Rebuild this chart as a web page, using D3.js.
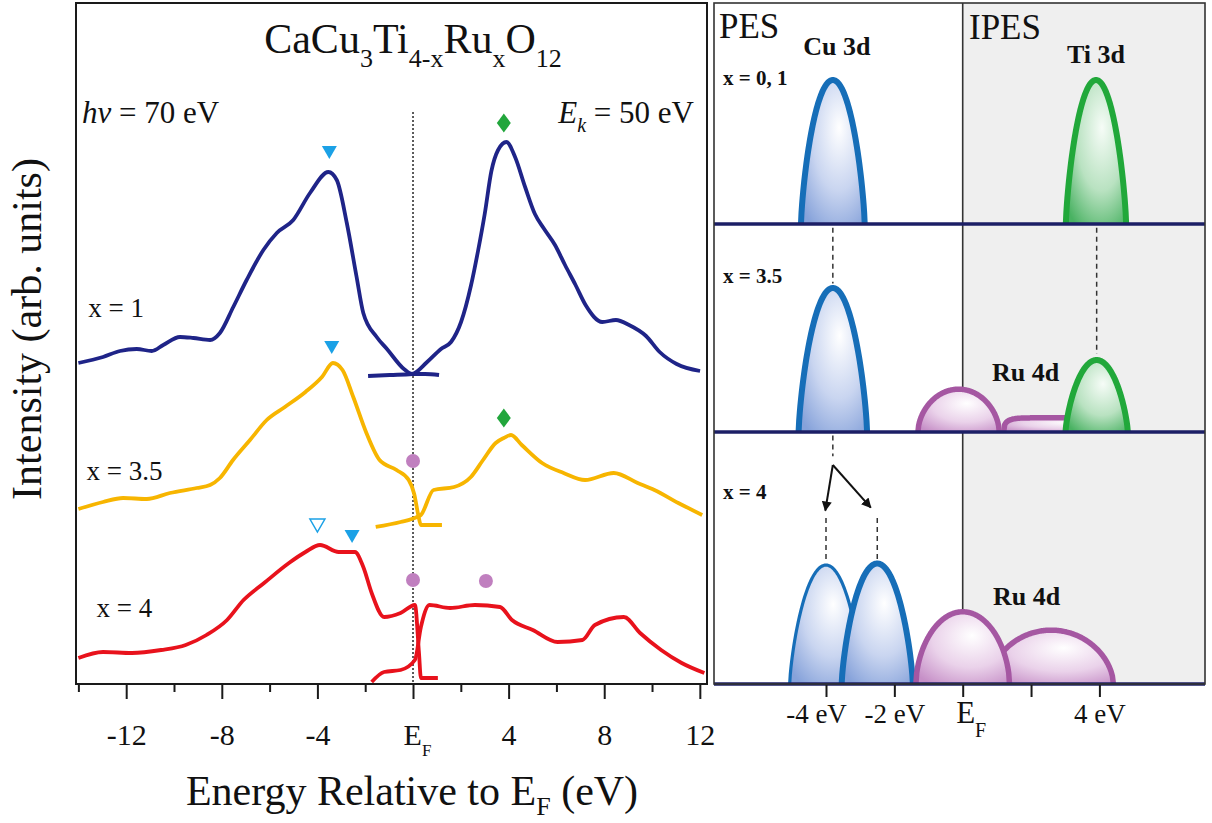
<!DOCTYPE html>
<html>
<head>
<meta charset="utf-8">
<script src="https://cdnjs.cloudflare.com/ajax/libs/d3/7.8.5/d3.min.js"></script>
<style>
  body { margin: 0; background: #fff; }
  svg { display: block; font-family: "Liberation Serif", "Times New Roman", serif; }
</style>
</head>
<body>
<div id="chart"></div>
<script>
// ---- spectra, [energy (eV), intensity (arb. units)] ----
const pesX1 = [[-14.0,32.1],[-12.97,32.7],[-12.26,33.3],[-11.56,33.5],[-10.93,33.3],[-10.45,33.9],
  [-9.75,34.7],[-9.19,34.6],[-8.49,34.4],[-8.08,35.1],[-7.52,37.7],[-6.96,40.4],[-6.26,43.4],
  [-5.70,45.1],[-5.01,46.4],[-4.31,49.1],[-3.54,51.2],[-3.19,50.4],[-2.77,46.1],[-2.36,40.7],
  [-2.08,37.1],[-1.52,34.7],[-1.09,33.5],[-0.38,31.5],[-0.04,31.0],[0.5,31.0],[1.09,30.9]];
const ipesX1 = [[-1.88,30.8],[-0.96,30.9],[-0.04,31.0],[0.59,32.2],[1.17,33.5],[1.59,34.2],
  [2.01,36.2],[2.43,39.9],[2.72,43.3],[3.0,47.0],[3.28,51.3],[3.56,53.4],[3.91,54.2],[4.27,52.7],
  [4.69,49.7],[5.10,47.0],[5.46,45.6],[5.94,43.9],[6.36,41.9],[6.80,39.9],[7.22,37.9],[7.92,36.2],
  [8.49,36.4],[9.04,35.9],[9.75,34.8],[10.32,33.2],[11.03,32.0],[12.01,31.3]];
const pesX35 = [[-14.0,17.5],[-12.97,18.2],[-12.13,18.6],[-11.14,18.5],[-10.17,19.1],[-9.05,19.6],
  [-8.49,19.9],[-8.08,20.6],[-7.53,22.4],[-6.82,24.4],[-6.12,26.4],[-5.36,27.7],[-4.50,29.2],
  [-3.81,30.7],[-3.35,32.1],[-2.95,31.4],[-2.50,28.7],[-1.95,25.1],[-1.40,22.4],[-0.69,21.4],
  [-0.18,20.4],[0.05,19.0],[0.22,16.9],[0.33,15.9],[1.21,15.9]];
const ipesX35 = [[-1.56,15.7],[-0.52,16.2],[0.17,16.7],[0.33,16.9],[0.86,19.4],[1.72,19.7],
  [2.42,20.7],[2.93,22.4],[3.46,24.1],[3.80,24.6],[4.10,24.9],[4.55,23.9],[5.40,22.1],[6.30,21.1],
  [7.20,20.4],[8.40,21.1],[9.40,20.1],[10.10,19.4],[11.10,18.1],[12.10,16.9]];
const pesX4 = [[-14.0,2.6],[-12.97,3.2],[-11.76,3.1],[-10.54,3.4],[-9.51,3.9],[-8.64,4.9],
  [-7.78,6.4],[-7.09,8.4],[-6.23,10.1],[-5.19,12.1],[-4.50,13.2],[-3.89,13.9],[-3.11,13.2],
  [-2.43,13.2],[-2.08,11.7],[-1.73,9.1],[-1.21,6.7],[-0.52,7.1],[0.08,7.9],[0.25,3.1],
  [0.33,0.6],[1.04,0.6]];
const ipesX4 = [[-1.73,0.2],[-1.21,1.2],[-0.52,1.4],[0.08,2.4],[0.33,5.7],[0.69,7.9],[1.55,7.6],
  [2.59,7.9],[3.64,7.7],[4.14,6.4],[5.01,5.4],[6.05,4.2],[7.09,4.4],[7.61,5.9],[8.82,6.7],
  [9.50,5.1],[10.38,3.4],[11.24,2.1],[12.19,1.1]];

// peak markers, [energy, intensity]
const cuPeaks = [[-3.5,53.2],[-3.4,33.7],[-2.55,14.8]];
const cuPeaksShifted = [[-4.0,15.9]];
const tiPeaks = [[3.8,56.1],[3.8,26.6]];
const ruPeaks = [[0,22.3],[0,10.4],[3.05,10.3]];

const seriesNames = ["x = 1", "x = 3.5", "x = 4"];
const majorTicks = [-12, -8, -4, 0, 4, 8, 12];
const minorTicks = [-14, -10, -6, -2, 2, 6, 10];

// ---- schematic density of states ----
const panelLabels = ["x = 0, 1", "x = 3.5", "x = 4"];
const bandPanel = [0, 0, 1, 1, 1, 1, 2, 2, 2, 2];
const bandOrbital = ["Cu 3d", "Ti 3d", "Cu 3d", "Ru 4d", "Ru 4d", "Ti 3d", "Cu 3d", "Cu 3d", "Ru 4d", "Ru 4d"];
const bandCenter = [-3.8, 3.9, -3.8, 2.82, -0.12, 3.92, -4.0, -2.5, 2.59, 0.0];
const bandHalfWidth = [1.02, 0.97, 1.09, 1.70, 1.27, 1.0, 1.11, 1.13, 1.9, 1.45];
const bandHeight = [100, 100, 100, 11.5, 31, 51, 82, 84, 38.5, 51];
const bandShape = ["arch", "arch", "arch", "flat", "dome", "arch", "arch", "arch", "dome", "dome"];
const schemeTicks = [-4, -2, 0, 2, 4];
const schemeTickLabels = ["-4 eV", "-2 eV", "EF", "", "4 eV"];

const W = 1212, H = 823;
const svg = d3.select("#chart").append("svg").attr("width", W).attr("height", H);
svg.append("rect").attr("width", W).attr("height", H).attr("fill", "#fff");

// ================= left: spectra =================
const xL = d3.scaleLinear().domain([-14.1, 12.3]).range([76, 707]);
const yL = d3.scaleLinear().domain([0, 68.1]).range([684, 3]);

const line = d3.line().x(d => xL(d[0])).y(d => yL(d[1])).curve(d3.curveMonotoneX);

// E_F dotted line
svg.append("line")
  .attr("x1", xL(0)).attr("x2", xL(0))
  .attr("y1", yL(57.2)).attr("y2", yL(0))
  .attr("stroke", "#333").attr("stroke-width", 1.6).attr("stroke-dasharray", "2,2");

const spectra = [
  {d: pesX1, c: "#1f2488"}, {d: ipesX1, c: "#1f2488"},
  {d: pesX35, c: "#f7b500"}, {d: ipesX35, c: "#f7b500"},
  {d: pesX4, c: "#e8121c"}, {d: ipesX4, c: "#e8121c"}
];
svg.selectAll(".spec").data(spectra).enter().append("path")
  .attr("class", "spec")
  .attr("d", s => line(s.d))
  .attr("fill", "none")
  .attr("stroke", s => s.c)
  .attr("stroke-width", 3.8)
  .attr("stroke-linejoin", "round");

// markers
const tri = (cx, cy) => `M${cx-7.5},${cy-6}L${cx+7.5},${cy-6}L${cx},${cy+7}Z`;
svg.selectAll(".cu").data(cuPeaks).enter().append("path")
  .attr("d", d => tri(xL(d[0]), yL(d[1]))).attr("fill", "#1ba1e6");
svg.selectAll(".cuo").data(cuPeaksShifted).enter().append("path")
  .attr("d", d => tri(xL(d[0]), yL(d[1]))).attr("fill", "#fff")
  .attr("stroke", "#1ba1e6").attr("stroke-width", 1.5);
svg.selectAll(".ti").data(tiPeaks).enter().append("path")
  .attr("d", d => {
    const cx = xL(d[0]), cy = yL(d[1]);
    return `M${cx},${cy-9.5}L${cx+7},${cy}L${cx},${cy+9.5}L${cx-7},${cy}Z`;
  })
  .attr("fill", "#22a63c");
svg.selectAll(".ru").data(ruPeaks).enter().append("circle")
  .attr("cx", d => xL(d[0])).attr("cy", d => yL(d[1])).attr("r", 7)
  .attr("fill", "#c07fbf");

// frame
svg.append("rect").attr("x", 76).attr("y", 3).attr("width", 631).attr("height", 681)
  .attr("fill", "none").attr("stroke", "#1a1a1a").attr("stroke-width", 2);

// x axis
const axisL = svg.append("g").attr("transform", "translate(0,684)")
  .call(d3.axisBottom(xL).tickValues(majorTicks).tickSize(15).tickFormat(d => d === 0 ? "E" : d));
axisL.attr("font-family", null).attr("font-size", 30);
axisL.select(".domain").remove();
axisL.selectAll(".tick line").attr("stroke", "#1a1a1a").attr("stroke-width", 2);
axisL.selectAll(".tick text").attr("y", 61).attr("dy", null).attr("fill", "#111");
axisL.selectAll(".tick text").filter(d => d === 0)
  .attr("dx", 4)
  .append("tspan").attr("font-size", 17).attr("dy", 11).text("F");

const axisMinor = svg.append("g").attr("transform", "translate(0,684)")
  .call(d3.axisBottom(xL).tickValues(minorTicks).tickSize(8).tickFormat(""));
axisMinor.select(".domain").remove();
axisMinor.selectAll(".tick line").attr("stroke", "#1a1a1a").attr("stroke-width", 2);

// titles
const xTitle = svg.append("text").attr("x", 412).attr("y", 805)
  .attr("text-anchor", "middle").attr("font-size", 42).attr("fill", "#111");
xTitle.append("tspan").text("Energy Relative to E");
xTitle.append("tspan").attr("font-size", 26).attr("dy", 10).text("F");
xTitle.append("tspan").attr("dy", -10).text(" (eV)");

svg.append("text").attr("transform", "translate(41,329) rotate(-90)")
  .attr("text-anchor", "middle").attr("font-size", 42).attr("fill", "#111")
  .text("Intensity (arb. units)");

const titleParts = [["CaCu", 0], ["3", 1], ["Ti", 0], ["4-x", 1], ["Ru", 0], ["x", 1], ["O", 0], ["12", 1]];
const title = svg.append("text").attr("x", 413).attr("y", 53)
  .attr("text-anchor", "middle").attr("font-size", 42).attr("fill", "#111");
let prevSub = 0;
titleParts.forEach(([t, s]) => {
  const ts = title.append("tspan").text(t);
  if (s) ts.attr("font-size", 26);
  if (s && !prevSub) ts.attr("dy", 14);
  if (!s && prevSub) ts.attr("dy", -14);
  prevSub = s;
});

const hv = svg.append("text").attr("x", 82).attr("y", 123).attr("font-size", 31).attr("fill", "#111");
hv.append("tspan").attr("font-style", "italic").text("hv");
hv.append("tspan").text(" = 70 eV");

const ek = svg.append("text").attr("x", 694).attr("y", 123).attr("text-anchor", "end")
  .attr("font-size", 31).attr("fill", "#111");
ek.append("tspan").attr("font-style", "italic").text("E");
ek.append("tspan").attr("font-style", "italic").attr("font-size", 20).attr("dy", 9).text("k");
ek.append("tspan").attr("dy", -9).text(" = 50 eV");

// series labels
const labelAt = [[-13.59, 36.7], [-13.66, 20.4], [-13.24, 6.7]];
svg.selectAll(".slab").data(seriesNames).enter().append("text")
  .attr("x", (d, i) => xL(labelAt[i][0])).attr("y", (d, i) => yL(labelAt[i][1]))
  .attr("font-size", 27).attr("fill", "#111").text(d => d);

// ================= right: schematic =================
const xR = d3.scaleLinear().domain([-4, 4]).range([826, 1099.4]);
const hR = d3.scaleLinear().domain([0, 100]).range([0, 147]);
const panelBase = [224, 432, 684];
const rLeft = 714, rRight = 1205, rTop = 3;

const defs = svg.append("defs");
const grad = (id, stops) => {
  const g = defs.append("radialGradient").attr("id", id)
    .attr("cx", "0.58").attr("cy", "0.38").attr("r", "0.75").attr("fx", "0.6").attr("fy", "0.33");
  stops.forEach(s => g.append("stop").attr("offset", s[0]).attr("stop-color", s[1]));
};
grad("gCu", [[0, "#ffffff"], [0.55, "#c9d5f0"], [1, "#86a2da"]]);
grad("gTi", [[0, "#f6fcf7"], [0.55, "#b9e2c1"], [1, "#49b262"]]);
grad("gRu", [[0, "#ffffff"], [0.55, "#ead2ea"], [1, "#c68fc7"]]);
defs.append("marker").attr("id", "arrow").attr("viewBox", "0 0 10 10")
  .attr("refX", 9).attr("refY", 5).attr("markerWidth", 5).attr("markerHeight", 5)
  .attr("orient", "auto-start-reverse").attr("markerUnits", "strokeWidth")
  .append("path").attr("d", "M0,0L10,5L0,10Z").attr("fill", "#111");

// IPES shading and E_F divider
svg.append("rect").attr("x", xR(0)).attr("y", rTop).attr("width", rRight - xR(0))
  .attr("height", panelBase[2] - rTop).attr("fill", "#efefef");
svg.append("line").attr("x1", xR(0)).attr("x2", xR(0)).attr("y1", rTop).attr("y2", panelBase[2])
  .attr("stroke", "#333").attr("stroke-width", 1.6);

// guides
const dashed = (e, p, h0, h1) => svg.append("line")
  .attr("x1", xR(e)).attr("x2", xR(e))
  .attr("y1", panelBase[p] - hR(h0)).attr("y2", panelBase[p] - hR(h1))
  .attr("stroke", "#333").attr("stroke-width", 1.5).attr("stroke-dasharray", "5,4");
dashed(-3.8, 1, 139, 101);
dashed(3.92, 1, 139, 53);
dashed(-3.8, 2, 169, 155);
dashed(-4.0, 2, 113, 83);
dashed(-2.5, 2, 113, 85);
[[-4.02, 118], [-2.69, 120]].forEach(t => {
  svg.append("line")
    .attr("x1", xR(-3.8)).attr("y1", panelBase[2] - hR(149))
    .attr("x2", xR(t[0])).attr("y2", panelBase[2] - hR(t[1]))
    .attr("stroke", "#111").attr("stroke-width", 2).attr("marker-end", "url(#arrow)");
});

// bands
const shapeExp = {arch: [2, 1.35], dome: [2, 1.8], flat: [8, 3]};
const strokeOf = {"Cu 3d": "#166eb8", "Ti 3d": "#21a83a", "Ru 4d": "#a557a2"};
const fillOf = {"Cu 3d": "url(#gCu)", "Ti 3d": "url(#gTi)", "Ru 4d": "url(#gRu)"};
const bands = bandPanel.map((p, i) => ({
  p, orb: bandOrbital[i], e: bandCenter[i], hw: bandHalfWidth[i], h: bandHeight[i], shape: bandShape[i],
  sw: i === 6 ? 3.2 : (bandOrbital[i] === "Ru 4d" ? 5.5 : 6)
}));
const bandPoints = b => {
  const [n, m] = shapeExp[b.shape];
  const cx = xR(b.e), rx = xR(b.e + b.hw) - cx - b.sw / 2, hh = hR(b.h) - b.sw / 2;
  const base = panelBase[b.p];
  return d3.range(0, 121).map(k => {
    const t = -1 + k / 60;
    return [cx + t * rx, base - hh * Math.pow(Math.max(0, 1 - Math.pow(Math.abs(t), n)), 1 / m)];
  });
};
const order = [3, 4, 0, 1, 2, 5, 6, 7, 8, 9];
order.forEach(i => {
  const b = bands[i];
  const pts = bandPoints(b);
  svg.append("path").attr("d", d3.line()(pts) + "Z").attr("fill", fillOf[b.orb]);
  svg.append("path").attr("d", d3.line()(pts)).attr("fill", "none")
    .attr("stroke", strokeOf[b.orb]).attr("stroke-width", b.sw).attr("stroke-linejoin", "round");
});

// baselines and frame
panelBase.forEach(y => svg.append("line").attr("x1", rLeft).attr("x2", rRight)
  .attr("y1", y).attr("y2", y).attr("stroke", "#1c1f66").attr("stroke-width", 3.5));
svg.append("rect").attr("x", rLeft).attr("y", rTop).attr("width", rRight - rLeft)
  .attr("height", panelBase[2] - rTop).attr("fill", "none").attr("stroke", "#333").attr("stroke-width", 1.6);

// schematic axis
const axisR = svg.append("g").attr("transform", `translate(0,${panelBase[2] + 1})`)
  .call(d3.axisBottom(xR).tickValues(schemeTicks).tickSize(12)
    .tickFormat((d, i) => schemeTickLabels[i] === "EF" ? "E" : schemeTickLabels[i]));
axisR.attr("font-family", null).attr("font-size", 27);
axisR.select(".domain").remove();
axisR.selectAll(".tick line").attr("stroke", "#1a1a1a").attr("stroke-width", 2);
axisR.selectAll(".tick text").attr("y", 38).attr("dy", null).attr("fill", "#111");
axisR.selectAll(".tick text").filter(d => d === -4).attr("dx", -10);
axisR.selectAll(".tick text").filter(d => d === 0).attr("font-size", 31).attr("dx", 8)
  .append("tspan").attr("font-size", 20).attr("dy", 14).text("F");

// schematic labels
const txt = (x, y, s, size, bold) => svg.append("text").attr("x", x).attr("y", y)
  .attr("font-size", size).attr("font-weight", bold ? "bold" : null).attr("fill", "#111").text(s);
txt(719, 38, "PES", 35);
txt(969, 39, "IPES", 35);
txt(xR(-3.8), 55, "Cu 3d", 26, true).attr("text-anchor", "middle").attr("dx", 4);
txt(xR(3.9), 63, "Ti 3d", 26, true).attr("text-anchor", "middle");
const panelLabelY = [85, 283, 499];
panelLabels.forEach((s, i) => txt(723, panelLabelY[i], s, 21, true));
txt(992, 381, "Ru 4d", 26, true);
txt(993, 605, "Ru 4d", 26, true);
</script>
</body>
</html>
